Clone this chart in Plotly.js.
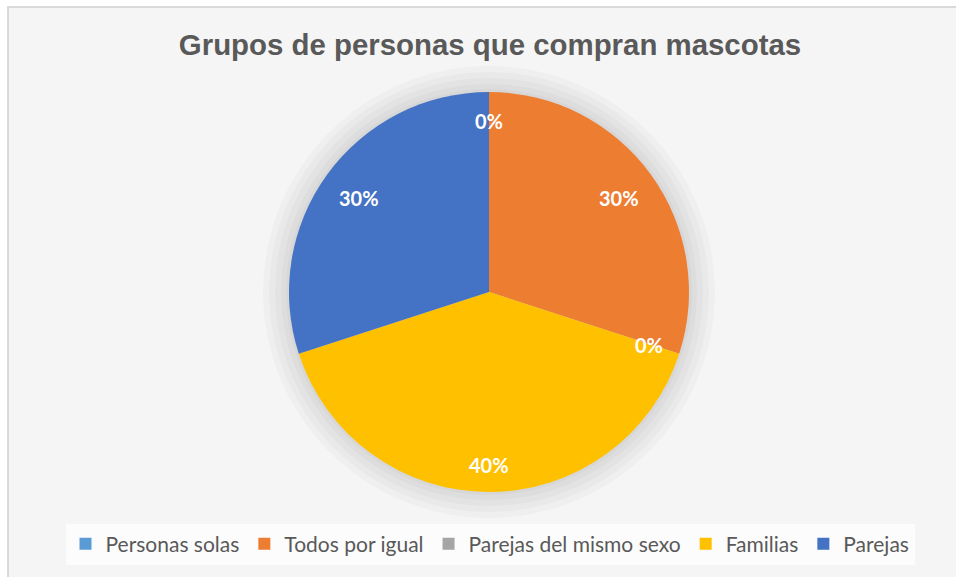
<!DOCTYPE html>
<html>
<head>
<meta charset="utf-8">
<script src="https://cdn.plot.ly/plotly-3.0.1.min.js"></script>
<style>html,body{margin:0;padding:0;background:#fff;}#chart{width:956px;height:577px;}</style>
</head>
<body>
<div id="chart"></div>
<script>
const titleText = 'Grupos de personas que compran mascotas';
const labels = ['Personas solas', 'Todos por igual', 'Parejas del mismo sexo', 'Familias', 'Parejas'];
const values = [0, 30, 0, 40, 30];
const colors = ['#5B9BD5', '#ED7D31', '#A5A5A5', '#FFC000', '#4472C4'];

const W = 956, H = 577;
const R = 200;             // pie radius in px
const CX = 489, CY = 292;  // pie centre in px (from top-left)
const dom = {
  x: [(CX - R) / W, (CX + R) / W],
  y: [1 - (CY + R) / H, 1 - (CY - R) / H]
};

// data labels: placed inside each slice so that the label box's outer corner
// sits at a fixed inset from the rim (like the spreadsheet's label placement)
const total = values.reduce((a, b) => a + b, 0);
const annotations = [];
let cum = 0;
const rimDist = 184, hh = 12;
values.forEach((v, i) => {
  const mid = (cum + v / 2) / total;
  cum += v;
  const th = mid * 2 * Math.PI;
  const txt = Math.round(v / total * 100) + '%';
  const hw = 6.5 * txt.length;
  const ux = Math.sin(th), uy = -Math.cos(th);
  const sx = Math.abs(ux) < 1e-6 ? 0 : Math.sign(ux) * hw;
  const sy = Math.abs(uy) < 1e-6 ? 0 : Math.sign(uy) * hh;
  // solve |t*u + s| = rimDist
  const b = ux * sx + uy * sy;
  const c = sx * sx + sy * sy - rimDist * rimDist;
  const t = -b + Math.sqrt(b * b - c);
  const px = CX + t * ux, py = CY + t * uy + 1;
  annotations.push({
    xref: 'paper', yref: 'paper',
    x: px / W, y: 1 - py / H,
    text: '<b>' + txt + '</b>',
    showarrow: false,
    font: {family: 'Lato, Open Sans, sans-serif', size: 20, color: '#ffffff'},
    xanchor: 'center', yanchor: 'middle'
  });
});

const shapes = [{
  type: 'rect', xref: 'paper', yref: 'paper', layer: 'below',
  x0: 8 / W, x1: 1.01, y0: -0.01, y1: 1 - 7 / H,
  fillcolor: '#f5f5f5', line: {color: '#d9d9d9', width: 2}
}];
[26, 20, 14, 8, 3].forEach(d => {
  shapes.push({
    type: 'circle', xref: 'paper', yref: 'paper', layer: 'below',
    x0: (CX - R - d) / W, x1: (CX + R + d) / W,
    y0: 1 - (CY + R + d) / H, y1: 1 - (CY - R - d) / H,
    fillcolor: 'rgba(0,0,0,0.025)', line: {width: 0}
  });
});

const trace = {
  type: 'pie',
  labels: labels,
  values: values,
  sort: false,
  direction: 'clockwise',
  rotation: 0,
  marker: {colors: colors, line: {width: 0}},
  textinfo: 'none',
  hoverinfo: 'label+percent',
  domain: dom
};

const layout = {
  width: W, height: H,
  margin: {l: 0, r: 0, t: 0, b: 0},
  paper_bgcolor: '#ffffff',
  title: {
    text: '<b>' + titleText + '</b>',
    font: {family: 'Liberation Sans, Arial, sans-serif', size: 29.4, color: '#595959'},
    x: 490 / W, xanchor: 'center', y: 1 - 45 / H, yanchor: 'middle'
  },
  showlegend: true,
  legend: {
    orientation: 'h',
    x: 490 / W, xanchor: 'center',
    y: 1 - 544 / H, yanchor: 'middle',
    bgcolor: '#fcfcfc',
    font: {family: 'Lato, Open Sans, sans-serif', size: 21, color: '#595959'},
    traceorder: 'normal'
  },
  shapes: shapes,
  annotations: annotations
};

Plotly.newPlot('chart', [trace], layout, {displayModeBar: false, staticPlot: true});
</script>
</body>
</html>
